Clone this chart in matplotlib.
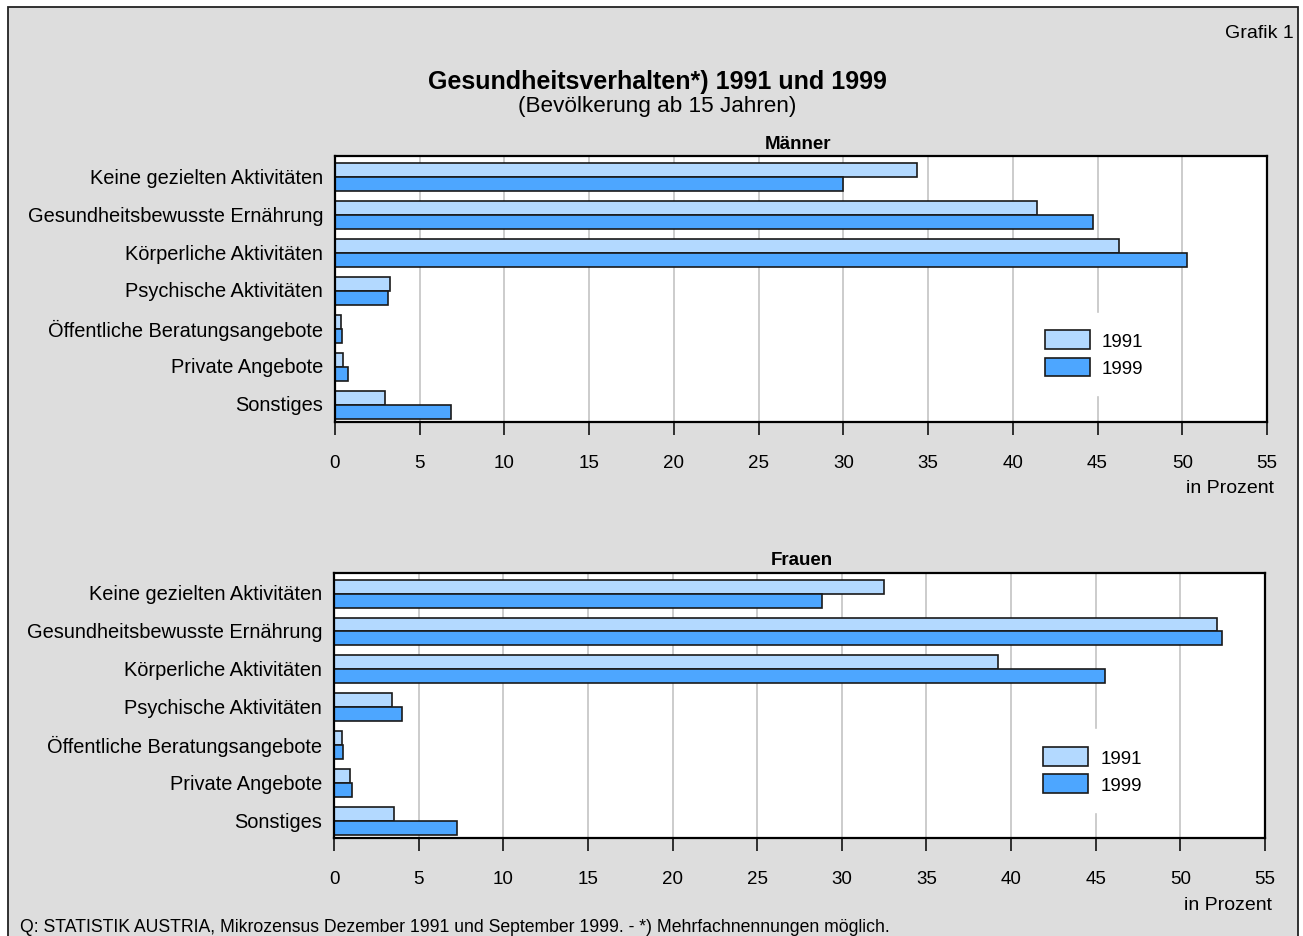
import matplotlib
matplotlib.use("Agg")
import matplotlib.pyplot as plt
from matplotlib.patches import Rectangle
import numpy as np

plt.rcParams['font.family'] = ['Liberation Sans', 'DejaVu Sans']

# ---- data -------------------------------------------------------------
categories = [
    "Keine gezielten Aktivitäten",
    "Gesundheitsbewusste Ernährung",
    "Körperliche Aktivitäten",
    "Psychische Aktivitäten",
    "Öffentliche Beratungsangebote",
    "Private Angebote",
    "Sonstiges",
]
years = ["1991", "1999"]

maenner_1991 = [34.35, 41.4, 46.25, 3.25, 0.35, 0.45, 2.95]
maenner_1999 = [29.95, 44.75, 50.3, 3.1, 0.4, 0.75, 6.85]

frauen_1991 = [32.5, 52.15, 39.25, 3.45, 0.45, 0.95, 3.55]
frauen_1999 = [28.8, 52.45, 45.55, 4.0, 0.55, 1.05, 7.25]

x_ticks = list(range(0, 60, 5))

# ---- styling ----------------------------------------------------------
W, H = 1303, 937
BG = "#dddddd"
C_LIGHT = "#b3d9ff"
C_DARK = "#4da6ff"
EDGE = "#1a1a1a"
GRID = "#c4c4c4"


def fx(px):
    return px / W


def fy(py):
    return 1 - py / H


fig = plt.figure(figsize=(W / 100, H / 100), dpi=100, facecolor="white")

# grey panel with dark outline, running off the bottom edge
fig.patches.append(Rectangle((fx(8), -0.05), fx(1298) - fx(8), fy(8) + 0.05,
                             transform=fig.transFigure, facecolor=BG,
                             edgecolor="#222222", linewidth=1.3, zorder=-10))

fig.text(fx(1294), fy(33), "Grafik 1", ha="right", va="center", fontsize=14)
fig.text(fx(657), fy(82), "Gesundheitsverhalten*) 1991 und 1999",
         ha="center", va="center", fontsize=18, fontweight="bold")
fig.text(fx(657), fy(106.5), "(Bevölkerung ab 15 Jahren)",
         ha="center", va="center", fontsize=16.2)


def panel(rect_px, title, v1991, v1999, title_xy, unit_xy, legend_center):
    l, t, r, b = rect_px
    ax = fig.add_axes([fx(l), fy(b), fx(r) - fx(l), fy(t) - fy(b)])
    ax.set_facecolor("white")
    n = len(categories)
    y = np.arange(n)
    h = 0.368
    off = 0.045
    ax.barh(y - h / 2 + off, v1991, height=h, color=C_LIGHT, edgecolor=EDGE,
            linewidth=1.2, label=years[0], zorder=3)
    ax.barh(y + h / 2 + off, v1999, height=h, color=C_DARK, edgecolor=EDGE,
            linewidth=1.2, label=years[1], zorder=3)
    ax.set_ylim(n - 0.5, -0.5)
    ax.set_xlim(0, 55)
    ax.set_xticks(x_ticks)
    ax.set_xticklabels([str(v) for v in x_ticks], fontsize=13.5)
    ax.set_yticks(y)
    ax.set_yticklabels(categories, fontsize=14.4)
    for lab in ax.get_yticklabels():
        lab.set_va("center_baseline")
    ax.tick_params(axis="y", length=0, pad=8.5)
    ax.tick_params(axis="x", direction="out", length=9.5, width=1.1,
                   color="black", pad=13.5)
    for gx in x_ticks[1:-1]:
        ax.axvline(gx, color=GRID, linewidth=1.2, zorder=1)
    for s in ax.spines.values():
        s.set_linewidth(1.6)
        s.set_color("black")
        s.set_zorder(5)
    leg = ax.legend(loc="center", bbox_to_anchor=legend_center, fontsize=13.5,
                    frameon=True, fancybox=False, edgecolor="white",
                    facecolor="white", framealpha=1, handlelength=2.4,
                    handleheight=1.15, handletextpad=0.65, labelspacing=0.4,
                    borderpad=0.95)
    leg.set_zorder(4)
    for p in leg.get_patches():
        p.set_linewidth(1.2)
    fig.text(fx(title_xy[0]), fy(title_xy[1]), title, ha="center", va="center",
             fontsize=13.5, fontweight="bold")
    fig.text(fx(unit_xy[0]), fy(unit_xy[1]), "in Prozent", ha="right",
             va="center", fontsize=14)
    return ax


panel((335, 157, 1267, 423), "Männer", maenner_1991, maenner_1999,
      (798, 144.5), (1274, 488.5), (0.8144, 0.256))
panel((334, 574, 1265, 839), "Frauen", frauen_1991, frauen_1999,
      (802, 560.5), (1272, 905.5), (0.815, 0.255))

fig.text(fx(20), fy(932.5),
         "Q: STATISTIK AUSTRIA, Mikrozensus Dezember 1991 und September 1999. "
         "- *) Mehrfachnennungen möglich.",
         ha="left", va="baseline", fontsize=12.7)

fig.savefig("out.png", dpi=100, facecolor=fig.get_facecolor())
